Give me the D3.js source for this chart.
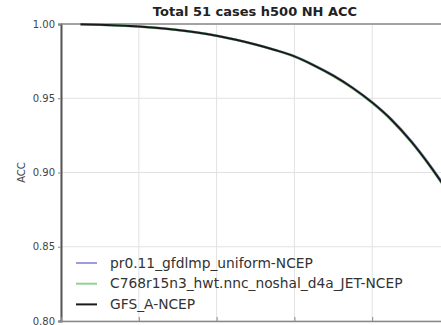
<!DOCTYPE html>
<html>
<head>
<meta charset="utf-8">
<script src="https://cdn.jsdelivr.net/npm/d3@7"></script>
<style>
	body { margin: 0; background: #fff; }
	svg { display: block; font-family: "DejaVu Sans", sans-serif; }
</style>
</head>
<body>
<div id="chart"></div>
<script>

// forecast day of each point
let days = [0.5, 1, 1.5, 2, 2.5, 3, 3.5, 4, 4.5, 5, 5.5, 6, 6.5, 7, 7.5, 8, 8.5, 9, 9.5, 10];

let accGfdlmp = [0.9998, 0.9995, 0.999, 0.9983, 0.9973, 0.996, 0.9943, 0.9921, 0.9894, 0.9862,
	0.9826, 0.9783, 0.9723, 0.9654, 0.9571, 0.9473, 0.9357, 0.9213, 0.9044, 0.8855];
let accC768 = [0.9998, 0.9995, 0.999, 0.9983, 0.9973, 0.996, 0.9943, 0.9921, 0.9893, 0.9861,
	0.9824, 0.9780, 0.9720, 0.9649, 0.9566, 0.9467, 0.9350, 0.9205, 0.9035, 0.8844];
let accGfs = [0.9998, 0.9995, 0.999, 0.9983, 0.9973, 0.996, 0.9943, 0.9921, 0.9894, 0.9862,
	0.9825, 0.9782, 0.9722, 0.9652, 0.9569, 0.9471, 0.9354, 0.921, 0.904, 0.885];

let seriesNames = ["pr0.11_gfdlmp_uniform-NCEP", "C768r15n3_hwt.nnc_noshal_d4a_JET-NCEP", "GFS_A-NCEP"];
let yTicks = [0.80, 0.85, 0.90, 0.95, 1.00];
let xTicks = [0, 2, 4, 6, 8, 10];

let width = 441, height = 325;
let svg = d3.select("#chart").append("svg")
	.attr("width", width)
	.attr("height", height);

// plot box runs past the right edge like in the original picture
let xScale = d3.scaleLinear().domain([0, 10]).range([61, 450]);
let yScale = d3.scaleLinear().domain([0.80, 1.00]).range([321, 24]);

// grid
svg.append("g").selectAll("line").data(yTicks).join("line")
	.attr("x1", 61).attr("x2", 450)
	.attr("y1", d => yScale(d)).attr("y2", d => yScale(d))
	.attr("stroke", "#e2e2e2").attr("stroke-width", 1);
svg.append("g").selectAll("line").data(xTicks).join("line")
	.attr("x1", d => xScale(d)).attr("x2", d => xScale(d))
	.attr("y1", 24).attr("y2", 321)
	.attr("stroke", "#e2e2e2").attr("stroke-width", 1);

// y axis
let yAxis = svg.append("g")
	.attr("transform", "translate(61,0)")
	.call(d3.axisLeft(yScale).tickValues(yTicks).tickFormat(d3.format(".2f")).tickSize(3).tickPadding(3));
yAxis.select(".domain").attr("stroke", "#555").attr("stroke-width", 2);
yAxis.selectAll(".tick line").attr("stroke", "#888");
yAxis.selectAll("text").attr("font-size", 10).attr("fill", "#444").attr("font-family", "DejaVu Sans");

// bottom ticks only (labels are cut off)
let xAxis = svg.append("g")
	.attr("transform", "translate(0,321)")
	.call(d3.axisTop(xScale).tickValues(xTicks).tickFormat("").tickSize(4));
xAxis.select(".domain").remove();
xAxis.selectAll(".tick line").attr("stroke", "#888");

svg.append("line")
	.attr("x1", 61).attr("x2", width).attr("y1", 24).attr("y2", 24)
	.attr("stroke", "#888").attr("stroke-width", 1.5);
svg.append("line")
	.attr("x1", 61).attr("x2", width).attr("y1", 321.5).attr("y2", 321.5)
	.attr("stroke", "#888").attr("stroke-width", 1.5);

svg.append("text")
	.attr("transform", "translate(25," + yScale(0.9) + ") rotate(-90)")
	.attr("text-anchor", "middle")
	.attr("font-size", 10)
	.attr("fill", "#444")
	.text("ACC");

svg.append("text")
	.attr("x", 255).attr("y", 16)
	.attr("text-anchor", "middle")
	.attr("font-size", 13)
	.attr("font-weight", "bold")
	.attr("fill", "#222")
	.text("Total 51 cases h500 NH ACC");

let line = d3.line()
	.x((d, i) => xScale(days[i]))
	.y(d => yScale(d))
	.curve(d3.curveMonotoneX);

let colors = ["#9c9ce0", "#94d094", "#1a1a1a"];
let allSeries = [accGfdlmp, accC768, accGfs];

allSeries.forEach(function (values, i) {
	svg.append("path")
		.datum(values)
		.attr("d", line)
		.attr("fill", "none")
		.attr("stroke", colors[i])
		.attr("stroke-width", i == 2 ? 2 : 2.5);
});

// legend
let legend = svg.append("g");
seriesNames.forEach(function (name, i) {
	let y = 263 + i * 20.7;
	legend.append("line")
		.attr("x1", 76).attr("x2", 97)
		.attr("y1", y).attr("y2", y)
		.attr("stroke", colors[i])
		.attr("stroke-width", 2);
	legend.append("text")
		.attr("x", 110).attr("y", y + 4.5)
		.attr("font-size", 13.8)
		.attr("fill", "#333")
		.text(name);
});

</script>
</body>
</html>
